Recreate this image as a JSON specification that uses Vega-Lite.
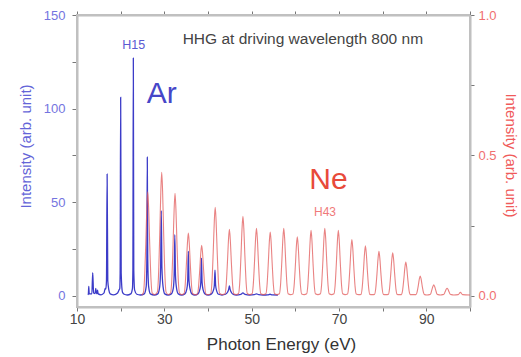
{
  "$schema": "https://vega.github.io/schema/vega-lite/v6.json",
  "width": 393,
  "height": 292,
  "autosize": "none",
  "padding": {"left": 77, "top": 15, "right": 51, "bottom": 50},
  "background": "white",
  "config": {
    "view": {"stroke": "#bdbdbd", "strokeWidth": 2},
    "font": "Liberation Sans",
    "axis": {"grid": false, "domain": true, "domainColor": "#bdbdbd", "domainWidth": 2, "tickColor": "#777", "tickWidth": 1, "labelFont": "Liberation Sans", "titleFont": "Liberation Sans", "labelFontSize": 12.5, "titleFontWeight": "normal", "labelFlush": false}
  },
  "datasets": {
    "ar": [
      {"e": 12.5, "i": 0.5}, {"e": 12.6, "i": 1}, {"e": 12.7, "i": 5}, {"e": 12.8, "i": 1},
      {"e": 13.4, "i": 1}, {"e": 13.6, "i": 12.4}, {"e": 13.8, "i": 1.5},
      {"e": 14.15, "i": 1.2}, {"e": 14.3, "i": 4}, {"e": 14.45, "i": 1.2},
      {"e": 14.6, "i": 1.2}, {"e": 14.7, "i": 3}, {"e": 14.85, "i": 1},
      {"e": 15.5, "i": 0.5},
      {"e": 16.2, "i": 1.5}, {"e": 16.45, "i": 4}, {"e": 16.6, "i": 3.5},
      {"e": 16.75, "i": 8}, {"e": 16.9, "i": 65}, {"e": 17.05, "i": 8}, {"e": 17.3, "i": 3}, {"e": 17.6, "i": 1},
      {"e": 18.4, "i": 0.5},
      {"e": 19.3, "i": 1.5}, {"e": 19.6, "i": 3}, {"e": 19.8, "i": 4}, {"e": 19.88, "i": 12}, {"e": 20.0, "i": 106}, {"e": 20.12, "i": 12}, {"e": 20.4, "i": 2}, {"e": 20.8, "i": 0.8},
      {"e": 21.5, "i": 0.4},
      {"e": 22.3, "i": 1}, {"e": 22.7, "i": 4}, {"e": 22.8, "i": 14}, {"e": 22.9, "i": 127}, {"e": 23.0, "i": 14}, {"e": 23.2, "i": 3}, {"e": 23.7, "i": 0.8},
      {"e": 24.5, "i": 0.4},
      {"e": 25.4, "i": 1}, {"e": 25.85, "i": 5}, {"e": 26.0, "i": 20}, {"e": 26.1, "i": 74}, {"e": 26.2, "i": 20}, {"e": 26.4, "i": 5}, {"e": 26.8, "i": 1},
      {"e": 27.7, "i": 0.4},
      {"e": 28.5, "i": 1}, {"e": 28.95, "i": 5}, {"e": 29.15, "i": 15}, {"e": 29.3, "i": 45.5}, {"e": 29.45, "i": 15}, {"e": 29.7, "i": 5}, {"e": 30.1, "i": 1},
      {"e": 30.85, "i": 0.4},
      {"e": 31.6, "i": 1}, {"e": 32.05, "i": 4}, {"e": 32.25, "i": 11}, {"e": 32.4, "i": 32.6}, {"e": 32.55, "i": 11}, {"e": 32.8, "i": 4}, {"e": 33.2, "i": 1},
      {"e": 33.95, "i": 0.4},
      {"e": 34.7, "i": 1}, {"e": 35.15, "i": 3.5}, {"e": 35.35, "i": 8}, {"e": 35.5, "i": 23.7}, {"e": 35.65, "i": 8}, {"e": 35.9, "i": 3.5}, {"e": 36.3, "i": 1},
      {"e": 37.0, "i": 0.4},
      {"e": 37.7, "i": 1}, {"e": 38.15, "i": 3.5}, {"e": 38.35, "i": 7}, {"e": 38.5, "i": 20.1}, {"e": 38.65, "i": 7}, {"e": 38.9, "i": 3}, {"e": 39.3, "i": 1},
      {"e": 40.05, "i": 0.4},
      {"e": 40.8, "i": 1}, {"e": 41.25, "i": 3}, {"e": 41.45, "i": 5.5}, {"e": 41.6, "i": 13.7}, {"e": 41.75, "i": 5.5}, {"e": 42.0, "i": 2.5}, {"e": 42.4, "i": 0.8},
      {"e": 43.2, "i": 0.4},
      {"e": 44.0, "i": 0.8}, {"e": 44.5, "i": 2}, {"e": 44.75, "i": 3.5}, {"e": 44.9, "i": 5.3}, {"e": 45.05, "i": 3.5}, {"e": 45.3, "i": 2}, {"e": 45.8, "i": 0.7},
      {"e": 46.5, "i": 0.4},
      {"e": 47.5, "i": 0.7}, {"e": 48.0, "i": 1.5}, {"e": 48.5, "i": 0.7},
      {"e": 49.5, "i": 0.4},
      {"e": 50.6, "i": 0.6}, {"e": 51.1, "i": 1}, {"e": 51.6, "i": 0.6},
      {"e": 52.6, "i": 0.4},
      {"e": 53.7, "i": 0.5}, {"e": 54.2, "i": 0.8}, {"e": 54.7, "i": 0.5},
      {"e": 56.0, "i": 0.4}
    ],
    "ne": [
      {"e": 24.8, "i": 0.003},
      {"e": 25.2, "i": 0.011}, {"e": 25.45, "i": 0.056}, {"e": 25.75, "i": 0.185}, {"e": 26.0, "i": 0.315}, {"e": 26.2, "i": 0.37}, {"e": 26.4, "i": 0.315}, {"e": 26.65, "i": 0.185}, {"e": 26.95, "i": 0.056}, {"e": 27.2, "i": 0.011},
      {"e": 27.8, "i": 0.004},
      {"e": 28.4, "i": 0.013}, {"e": 28.65, "i": 0.066}, {"e": 28.95, "i": 0.22}, {"e": 29.2, "i": 0.374}, {"e": 29.4, "i": 0.44}, {"e": 29.6, "i": 0.374}, {"e": 29.85, "i": 0.22}, {"e": 30.15, "i": 0.066}, {"e": 30.4, "i": 0.013},
      {"e": 30.92, "i": 0.004},
      {"e": 31.45, "i": 0.011}, {"e": 31.7, "i": 0.055}, {"e": 32.0, "i": 0.183}, {"e": 32.25, "i": 0.31}, {"e": 32.45, "i": 0.365}, {"e": 32.65, "i": 0.31}, {"e": 32.9, "i": 0.183}, {"e": 33.2, "i": 0.055}, {"e": 33.45, "i": 0.011},
      {"e": 33.98, "i": 0.004},
      {"e": 34.5, "i": 0.007}, {"e": 34.75, "i": 0.033}, {"e": 35.05, "i": 0.112}, {"e": 35.3, "i": 0.19}, {"e": 35.5, "i": 0.223}, {"e": 35.7, "i": 0.19}, {"e": 35.95, "i": 0.112}, {"e": 36.25, "i": 0.033}, {"e": 36.5, "i": 0.007},
      {"e": 37.02, "i": 0.004},
      {"e": 37.55, "i": 0.005}, {"e": 37.8, "i": 0.027}, {"e": 38.1, "i": 0.09}, {"e": 38.35, "i": 0.153}, {"e": 38.55, "i": 0.18}, {"e": 38.75, "i": 0.153}, {"e": 39.0, "i": 0.09}, {"e": 39.3, "i": 0.027}, {"e": 39.55, "i": 0.005},
      {"e": 40.1, "i": 0.004},
      {"e": 40.65, "i": 0.009}, {"e": 40.9, "i": 0.047}, {"e": 41.2, "i": 0.158}, {"e": 41.45, "i": 0.268}, {"e": 41.65, "i": 0.315}, {"e": 41.85, "i": 0.268}, {"e": 42.1, "i": 0.158}, {"e": 42.4, "i": 0.047}, {"e": 42.65, "i": 0.009},
      {"e": 43.28, "i": 0.004},
      {"e": 43.9, "i": 0.007}, {"e": 44.15, "i": 0.036}, {"e": 44.45, "i": 0.119}, {"e": 44.7, "i": 0.201}, {"e": 44.9, "i": 0.237}, {"e": 45.1, "i": 0.201}, {"e": 45.35, "i": 0.119}, {"e": 45.65, "i": 0.036}, {"e": 45.9, "i": 0.007},
      {"e": 46.45, "i": 0.004},
      {"e": 47.0, "i": 0.008}, {"e": 47.25, "i": 0.042}, {"e": 47.55, "i": 0.142}, {"e": 47.8, "i": 0.241}, {"e": 48.0, "i": 0.283}, {"e": 48.2, "i": 0.241}, {"e": 48.45, "i": 0.142}, {"e": 48.75, "i": 0.042}, {"e": 49.0, "i": 0.008},
      {"e": 49.55, "i": 0.004},
      {"e": 50.1, "i": 0.007}, {"e": 50.35, "i": 0.036}, {"e": 50.65, "i": 0.12}, {"e": 50.9, "i": 0.204}, {"e": 51.1, "i": 0.24}, {"e": 51.3, "i": 0.204}, {"e": 51.55, "i": 0.12}, {"e": 51.85, "i": 0.036}, {"e": 52.1, "i": 0.007},
      {"e": 52.68, "i": 0.004},
      {"e": 53.25, "i": 0.007}, {"e": 53.5, "i": 0.034}, {"e": 53.8, "i": 0.114}, {"e": 54.05, "i": 0.193}, {"e": 54.25, "i": 0.227}, {"e": 54.45, "i": 0.193}, {"e": 54.7, "i": 0.114}, {"e": 55.0, "i": 0.034}, {"e": 55.25, "i": 0.007},
      {"e": 55.8, "i": 0.004},
      {"e": 56.35, "i": 0.007}, {"e": 56.6, "i": 0.036}, {"e": 56.9, "i": 0.12}, {"e": 57.15, "i": 0.204}, {"e": 57.35, "i": 0.24}, {"e": 57.55, "i": 0.204}, {"e": 57.8, "i": 0.12}, {"e": 58.1, "i": 0.036}, {"e": 58.35, "i": 0.007},
      {"e": 58.9, "i": 0.004},
      {"e": 59.45, "i": 0.006}, {"e": 59.7, "i": 0.032}, {"e": 60.0, "i": 0.105}, {"e": 60.25, "i": 0.179}, {"e": 60.45, "i": 0.21}, {"e": 60.65, "i": 0.179}, {"e": 60.9, "i": 0.105}, {"e": 61.2, "i": 0.032}, {"e": 61.45, "i": 0.006},
      {"e": 62.02, "i": 0.004},
      {"e": 62.6, "i": 0.007}, {"e": 62.85, "i": 0.035}, {"e": 63.15, "i": 0.117}, {"e": 63.4, "i": 0.198}, {"e": 63.6, "i": 0.233}, {"e": 63.8, "i": 0.198}, {"e": 64.05, "i": 0.117}, {"e": 64.35, "i": 0.035}, {"e": 64.6, "i": 0.007},
      {"e": 65.18, "i": 0.004},
      {"e": 65.75, "i": 0.007}, {"e": 66.0, "i": 0.036}, {"e": 66.3, "i": 0.12}, {"e": 66.55, "i": 0.204}, {"e": 66.75, "i": 0.24}, {"e": 66.95, "i": 0.204}, {"e": 67.2, "i": 0.12}, {"e": 67.5, "i": 0.036}, {"e": 67.75, "i": 0.007},
      {"e": 68.3, "i": 0.004},
      {"e": 68.85, "i": 0.007}, {"e": 69.1, "i": 0.035}, {"e": 69.4, "i": 0.117}, {"e": 69.65, "i": 0.198}, {"e": 69.85, "i": 0.233}, {"e": 70.05, "i": 0.198}, {"e": 70.3, "i": 0.117}, {"e": 70.6, "i": 0.035}, {"e": 70.85, "i": 0.007},
      {"e": 71.4, "i": 0.004},
      {"e": 71.95, "i": 0.006}, {"e": 72.2, "i": 0.03}, {"e": 72.5, "i": 0.1}, {"e": 72.75, "i": 0.17}, {"e": 72.95, "i": 0.2}, {"e": 73.15, "i": 0.17}, {"e": 73.4, "i": 0.1}, {"e": 73.7, "i": 0.03}, {"e": 73.95, "i": 0.006},
      {"e": 74.5, "i": 0.004},
      {"e": 75.05, "i": 0.005}, {"e": 75.3, "i": 0.027}, {"e": 75.6, "i": 0.089}, {"e": 75.85, "i": 0.151}, {"e": 76.05, "i": 0.178}, {"e": 76.25, "i": 0.151}, {"e": 76.5, "i": 0.089}, {"e": 76.8, "i": 0.027}, {"e": 77.05, "i": 0.005},
      {"e": 77.6, "i": 0.004},
      {"e": 78.15, "i": 0.005}, {"e": 78.4, "i": 0.024}, {"e": 78.7, "i": 0.079}, {"e": 78.95, "i": 0.134}, {"e": 79.15, "i": 0.158}, {"e": 79.35, "i": 0.134}, {"e": 79.6, "i": 0.079}, {"e": 79.9, "i": 0.024}, {"e": 80.15, "i": 0.005},
      {"e": 80.72, "i": 0.004},
      {"e": 81.3, "i": 0.005}, {"e": 81.55, "i": 0.023}, {"e": 81.85, "i": 0.077}, {"e": 82.1, "i": 0.13}, {"e": 82.3, "i": 0.153}, {"e": 82.5, "i": 0.13}, {"e": 82.75, "i": 0.077}, {"e": 83.05, "i": 0.023}, {"e": 83.3, "i": 0.005},
      {"e": 83.8, "i": 0.004},
      {"e": 84.3, "i": 0.004}, {"e": 84.55, "i": 0.018}, {"e": 84.85, "i": 0.06}, {"e": 85.1, "i": 0.102}, {"e": 85.3, "i": 0.12}, {"e": 85.5, "i": 0.102}, {"e": 85.75, "i": 0.06}, {"e": 86.05, "i": 0.018}, {"e": 86.3, "i": 0.004},
      {"e": 86.95, "i": 0.004},
      {"e": 87.6, "i": 0.004}, {"e": 87.85, "i": 0.011}, {"e": 88.15, "i": 0.035}, {"e": 88.4, "i": 0.06}, {"e": 88.6, "i": 0.07}, {"e": 88.8, "i": 0.06}, {"e": 89.05, "i": 0.035}, {"e": 89.35, "i": 0.011}, {"e": 89.6, "i": 0.004},
      {"e": 90.15, "i": 0.003},
      {"e": 90.7, "i": 0.004}, {"e": 90.95, "i": 0.006}, {"e": 91.25, "i": 0.02}, {"e": 91.5, "i": 0.033}, {"e": 91.7, "i": 0.039}, {"e": 91.9, "i": 0.033}, {"e": 92.15, "i": 0.02}, {"e": 92.45, "i": 0.006}, {"e": 92.7, "i": 0.004},
      {"e": 93.22, "i": 0.003},
      {"e": 93.75, "i": 0.004}, {"e": 94.0, "i": 0.005}, {"e": 94.3, "i": 0.014}, {"e": 94.55, "i": 0.023}, {"e": 94.75, "i": 0.027}, {"e": 94.95, "i": 0.023}, {"e": 95.2, "i": 0.014}, {"e": 95.5, "i": 0.005}, {"e": 95.75, "i": 0.004},
      {"e": 96.28, "i": 0.003},
      {"e": 97.3, "i": 0.004}, {"e": 97.8, "i": 0.012}, {"e": 98.3, "i": 0.004},
      {"e": 100.0, "i": 0.003}
    ]
  },
  "layer": [
    {
      "layer": [
        {
          "data": {"name": "ar"},
          "mark": {"type": "line", "color": "#3c3cc8", "strokeWidth": 1.3, "interpolate": "monotone"},
          "encoding": {
            "x": {"field": "e", "type": "quantitative", "scale": {"domain": [10, 100], "nice": false, "zero": false},
              "axis": {"orient": "bottom", "values": [10, 20, 30, 40, 50, 60, 70, 80, 90, 100], "labelExpr": "datum.value % 20 == 10 ? datum.label : ''", "labelColor": "#444", "labelFontSize": 14, "tickSize": 4, "labelPadding": 1, "title": "Photon Energy (eV)", "titleColor": "#333", "titleFontSize": 17, "titleX": 204, "titleY": 37, "titleBaseline": "middle"}},
            "y": {"field": "i", "type": "quantitative", "scale": {"domain": [-6, 150], "nice": false, "zero": false},
              "axis": {"orient": "left", "values": [0, 25, 50, 75, 100, 125, 150], "labelExpr": "datum.value % 50 == 0 ? datum.label : ''", "labelColor": "#7474e0", "labelFontSize": 13, "tickSize": 5, "labelPadding": 7, "title": "Intensity (arb. unit)", "titleColor": "#6464d8", "titleFontSize": 15, "titleAngle": -90, "titleX": -52, "titleY": 131, "titleBaseline": "middle", "titleAlign": "center"}}
          }
        },
        {
          "data": {"values": [{}]},
          "mark": {"type": "rule", "color": "#c0c0c0", "strokeWidth": 2},
          "encoding": {"x": {"datum": 10}}
        },
        {
          "data": {"values": [{}]},
          "mark": {"type": "rule", "color": "#c0c0c0", "strokeWidth": 2},
          "encoding": {"x": {"datum": 100}}
        },
        {
          "data": {"values": [{}]},
          "mark": {"type": "rule", "color": "#c0c0c0", "strokeWidth": 2},
          "encoding": {"y": {"datum": 150}}
        },
        {
          "data": {"values": [{}]},
          "mark": {"type": "rule", "color": "#c0c0c0", "strokeWidth": 2},
          "encoding": {"y": {"datum": -6}}
        },
        {
          "data": {"values": [{}]},
          "mark": {"type": "text", "text": "H15", "color": "#5a5ad2", "fontSize": 12.5, "align": "center", "baseline": "middle"},
          "encoding": {"x": {"datum": 23}, "y": {"datum": 134}}
        },
        {
          "data": {"values": [{}]},
          "mark": {"type": "text", "text": "Ar", "color": "#4646c8", "fontSize": 30, "align": "center", "baseline": "middle"},
          "encoding": {"x": {"datum": 29.4}, "y": {"datum": 108}}
        },
        {
          "data": {"values": [{}]},
          "mark": {"type": "text", "text": "HHG at driving wavelength 800 nm", "color": "#444", "fontSize": 15.5, "align": "left", "baseline": "middle"},
          "encoding": {"x": {"datum": 34.2}, "y": {"datum": 137}}
        },
        {
          "data": {"values": [{}]},
          "mark": {"type": "text", "text": "Ne", "color": "#e84a3a", "fontSize": 30, "align": "center", "baseline": "middle"},
          "encoding": {"x": {"datum": 67.6}, "y": {"datum": 62}}
        },
        {
          "data": {"values": [{}]},
          "mark": {"type": "text", "text": "H43", "color": "#f07a7a", "fontSize": 12, "align": "center", "baseline": "middle"},
          "encoding": {"x": {"datum": 66.8}, "y": {"datum": 44.5}}
        }
      ]
    },
    {
      "data": {"name": "ne"},
      "mark": {"type": "line", "color": "#e25a5a", "strokeWidth": 1.1, "opacity": 0.75, "interpolate": "monotone"},
      "encoding": {
        "x": {"field": "e", "type": "quantitative", "scale": {"domain": [10, 100], "nice": false, "zero": false},
          "axis": {"orient": "top", "values": [10, 20, 30, 40, 50, 60, 70, 80, 90, 100], "labels": false, "tickSize": 4, "title": null}},
        "y": {"field": "i", "type": "quantitative", "scale": {"domain": [-0.04, 1.0], "nice": false, "zero": false},
          "axis": {"orient": "right", "values": [0, 0.25, 0.5, 0.75, 1.0], "labelExpr": "datum.value == 0 || datum.value == 0.5 || datum.value == 1 ? format(datum.value, '.1f') : ''", "labelColor": "#f07070", "labelFontSize": 13, "tickSize": 4, "labelPadding": 4, "title": "Intensity (arb. unit)", "titleColor": "#f05a5a", "titleFontSize": 15, "titleAngle": 90, "titleX": 40, "titleY": 140, "titleBaseline": "middle", "titleAlign": "center"}}
      }
    }
  ],
  "resolve": {"scale": {"y": "independent"}, "axis": {"x": "independent"}}
}
